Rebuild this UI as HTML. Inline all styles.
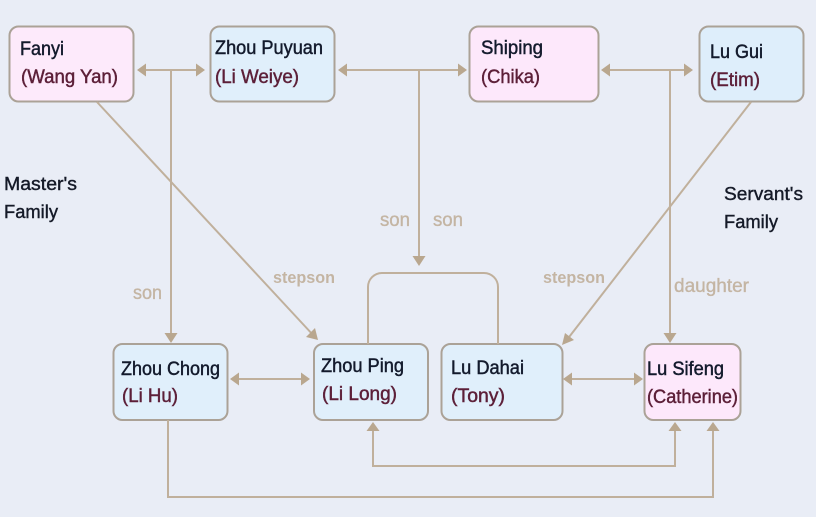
<!DOCTYPE html>
<html><head><meta charset="utf-8"><style>
html,body{margin:0;padding:0;background:#e9edf6}
svg{display:block}
text{font-family:"Liberation Sans",sans-serif}
.n{font-size:19px;fill:#131a2c;stroke:#131a2c;stroke-width:.45}
.m{font-size:19px;fill:#5c1f38;stroke:#5c1f38;stroke-width:.45}
.l{font-size:19px;fill:#c4b5a3;stroke:#c4b5a3;stroke-width:.35}
.s{font-size:17px;fill:#c4b5a3;font-weight:bold}
.f{font-size:18.5px;fill:#151a28;stroke:#151a28;stroke-width:.4}
.c{fill:none;stroke:#c0b09c;stroke-width:2}
.h{fill:#b9a78f}
.b{stroke:#aba297;stroke-width:2}
</style></head><body>
<svg width="816" height="517" viewBox="0 0 816 517" xmlns="http://www.w3.org/2000/svg">
<rect width="816" height="517" fill="#e9edf6"/>
<!-- boxes -->
<rect class="b" x="9.5" y="26.5" width="124" height="75" rx="9" fill="#fdeafb"/>
<rect class="b" x="210.5" y="26.5" width="124" height="75" rx="9" fill="#e0effb"/>
<rect class="b" x="469.5" y="26.5" width="129" height="75" rx="9" fill="#fde8fb"/>
<rect class="b" x="699.5" y="26.5" width="104" height="75" rx="9" fill="#deeefb"/>
<rect class="b" x="113.5" y="344" width="114" height="76" rx="9" fill="#e0effb"/>
<rect class="b" x="314" y="344" width="114" height="76" rx="9" fill="#e0effb"/>
<rect class="b" x="441.5" y="344" width="121" height="76" rx="9" fill="#e0effb"/>
<rect class="b" x="644.5" y="344" width="96" height="76" rx="9" fill="#fde8fb"/>
<!-- connectors -->
<path class="c" d="M142 70H200M171 70V336"/>
<path class="c" d="M344 70H462M419 70V259"/>
<path class="c" d="M606 70H688M670 70V336"/>
<path class="c" d="M97 102L314 336"/>
<path class="c" d="M751 102L566 341"/>
<path class="c" d="M368 344V287a14 14 0 0 1 14-14H484a14 14 0 0 1 14 14V344"/>
<path class="c" d="M235 379H305"/>
<path class="c" d="M568 379H638"/>
<path class="c" d="M373 428V466H675V428"/>
<path class="c" d="M168 420V497H713V428"/>
<!-- arrowheads -->
<path class="h" d="M137 70l9-6.500v13zM205 70l-9-6.500v13z"/>
<path class="h" d="M338 70l9-6.500v13zM467 70l-9-6.500v13z"/>
<path class="h" d="M601 70l9-6.500v13zM693 70l-9-6.500v13z"/>
<path class="h" d="M171 343l-6.500-10h13z"/>
<path class="h" d="M419 266l-6.500-10h13z"/>
<path class="h" d="M670 343l-6.500-10h13z"/>
<path class="h" d="M318 340l-12-3 9-9z"/>
<path class="h" d="M562 345l3-12 9 7z"/>
<path class="h" d="M230 379l9-6.500v13zM310 379l-9-6.500v13z"/>
<path class="h" d="M563 379l9-6.500v13zM643 379l-9-6.500v13z"/>
<path class="h" d="M373 422l-6.500 9h13z"/>
<path class="h" d="M675 422l-6.500 9h13z"/>
<path class="h" d="M713 422l-6.500 9h13z"/>
<!-- names -->
<text class="n" x="20" y="55" textLength="44" lengthAdjust="spacingAndGlyphs">Fanyi</text>
<text class="m" x="21" y="83" textLength="97" lengthAdjust="spacingAndGlyphs">(Wang Yan)</text>
<text class="n" x="215" y="54" textLength="108" lengthAdjust="spacingAndGlyphs">Zhou Puyuan</text>
<text class="m" x="215" y="83" textLength="84" lengthAdjust="spacingAndGlyphs">(Li Weiye)</text>
<text class="n" x="481" y="54" textLength="62" lengthAdjust="spacingAndGlyphs">Shiping</text>
<text class="m" x="481" y="83" textLength="59" lengthAdjust="spacingAndGlyphs">(Chika)</text>
<text class="n" x="710" y="58" textLength="53" lengthAdjust="spacingAndGlyphs">Lu Gui</text>
<text class="m" x="710" y="86" textLength="50" lengthAdjust="spacingAndGlyphs">(Etim)</text>
<text class="n" x="121" y="375" textLength="99" lengthAdjust="spacingAndGlyphs">Zhou Chong</text>
<text class="m" x="122" y="402" textLength="56" lengthAdjust="spacingAndGlyphs">(Li Hu)</text>
<text class="n" x="321" y="372" textLength="83" lengthAdjust="spacingAndGlyphs">Zhou Ping</text>
<text class="m" x="322" y="400" textLength="75" lengthAdjust="spacingAndGlyphs">(Li Long)</text>
<text class="n" x="451" y="374" textLength="73" lengthAdjust="spacingAndGlyphs">Lu Dahai</text>
<text class="m" x="451" y="402" textLength="54" lengthAdjust="spacingAndGlyphs">(Tony)</text>
<text class="n" x="647" y="375" textLength="77" lengthAdjust="spacingAndGlyphs">Lu Sifeng</text>
<text class="m" x="647" y="403" textLength="91" lengthAdjust="spacingAndGlyphs">(Catherine)</text>
<!-- relations -->
<text class="l" x="133" y="299" textLength="29" lengthAdjust="spacingAndGlyphs">son</text>
<text class="l" x="380" y="226" textLength="30" lengthAdjust="spacingAndGlyphs">son</text>
<text class="l" x="433" y="226" textLength="30" lengthAdjust="spacingAndGlyphs">son</text>
<text class="s" x="273" y="283" textLength="62" lengthAdjust="spacingAndGlyphs">stepson</text>
<text class="s" x="543" y="283" textLength="62" lengthAdjust="spacingAndGlyphs">stepson</text>
<text class="l" x="674" y="292" textLength="75" lengthAdjust="spacingAndGlyphs">daughter</text>
<!-- families -->
<text class="f" x="4" y="190" textLength="73" lengthAdjust="spacingAndGlyphs">Master's</text>
<text class="f" x="4" y="218" textLength="54" lengthAdjust="spacingAndGlyphs">Family</text>
<text class="f" x="724" y="200" textLength="79" lengthAdjust="spacingAndGlyphs">Servant's</text>
<text class="f" x="724" y="228" textLength="54" lengthAdjust="spacingAndGlyphs">Family</text>
</svg>
</body></html>
